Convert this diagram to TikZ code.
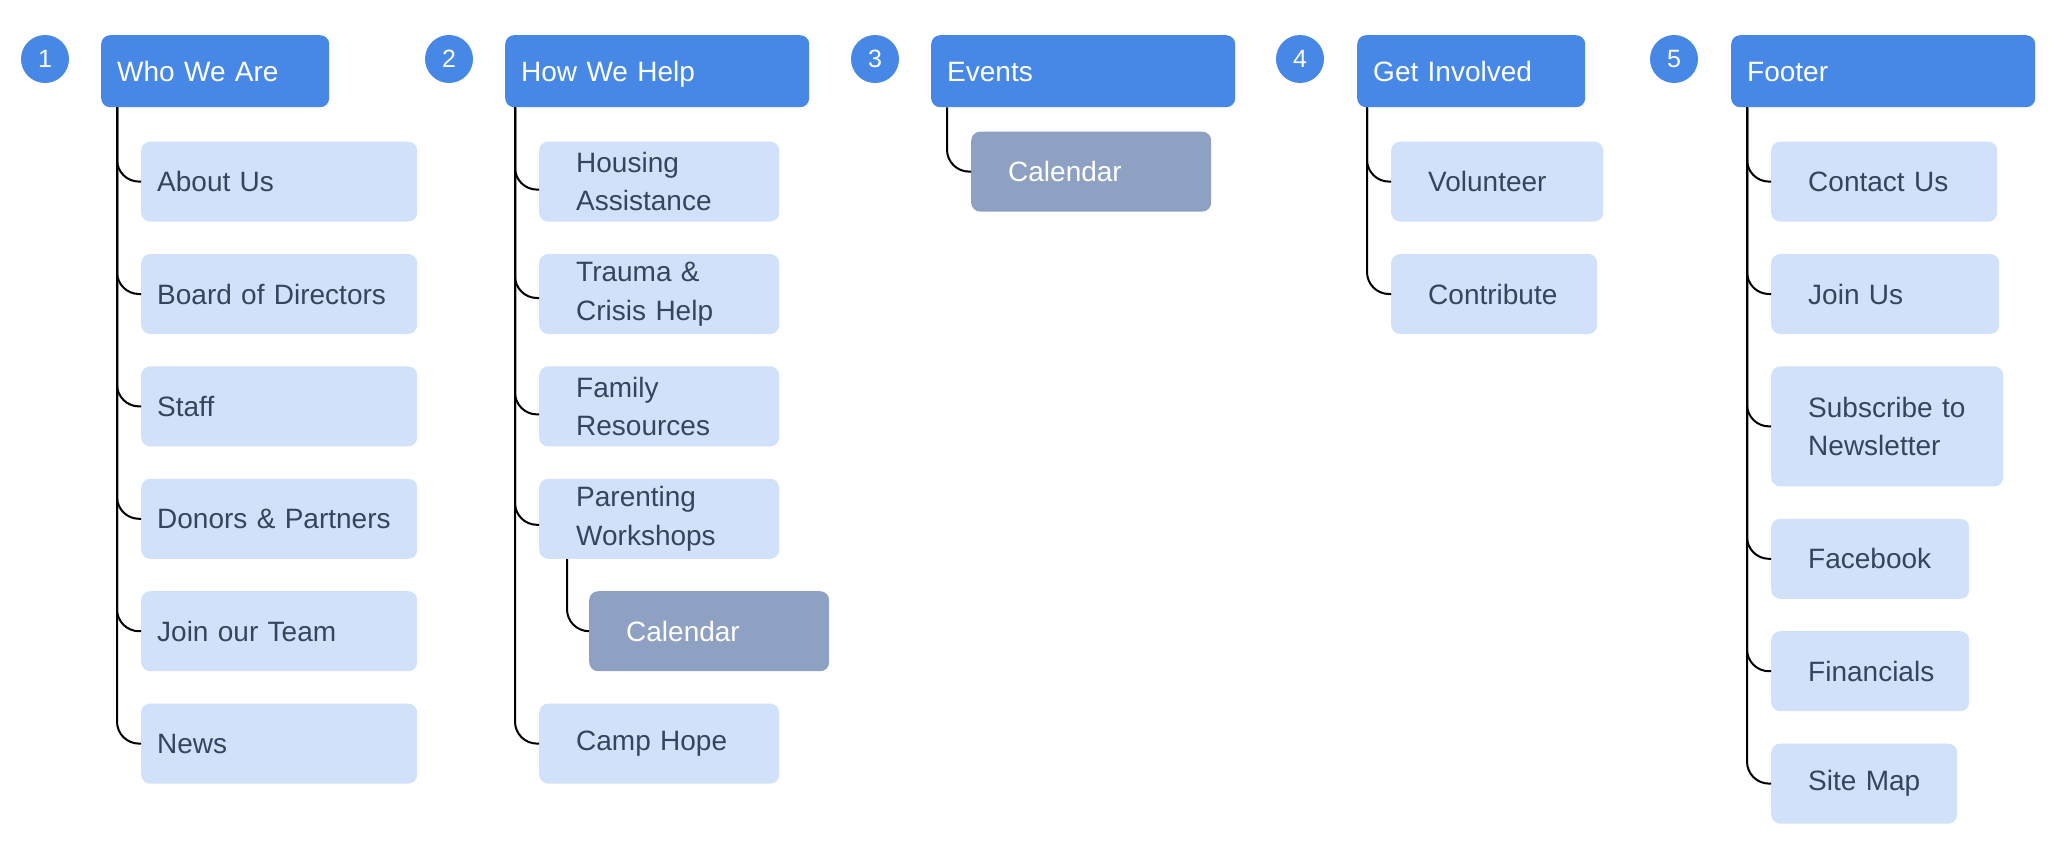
\documentclass[tikz,border=0pt]{standalone}
\usepackage{fontspec}
\setmainfont{Liberation Sans}
\usepackage{xcolor}
\usetikzlibrary{positioning}

\definecolor{hdrblue}{HTML}{4788E6}
\definecolor{navblue}{HTML}{D0E1F9}
\definecolor{navtext}{HTML}{38445F}
\definecolor{subgrey}{HTML}{8FA1C2}

\begin{document}
\begin{tikzpicture}[
    x=1pt, y=-1pt,
    num/.style={circle, fill=hdrblue, text=white, minimum size=48pt, inner sep=0pt, font=\fontsize{25}{25}\selectfont},
    hdrbox/.style={rectangle, rounded corners=9pt, fill=hdrblue, text=white, anchor=north west, minimum height=72pt, inner xsep=16pt, inner ysep=0pt, text width=#1, text height=21pt, text depth=0pt, align=left, font=\fontsize{28}{34}\selectfont},
    navbox/.style={rectangle, rounded corners=9pt, fill=navblue, text=navtext, minimum height=80pt, inner xsep=37pt, inner ysep=0pt, text width=#1, align=left, font=\fontsize{28}{38.5}\selectfont},
    tight/.style={inner xsep=16pt},
    subpage/.style={fill=subgrey, text=white},
    link/.style={line width=2pt, rounded corners=22pt}
]
\useasboundingbox (0,0) rectangle (2064,846);

% 1 Who We Are
\node[num] (n1) at (45,59) {1};
\node[hdrbox=196pt] (who) at (101,35) {Who We Are};
\node[navbox=244pt, tight, below right=34pt and 40pt of who.south west] (about) {About Us};
\node[navbox=244pt, tight, below=32pt of about.south west, anchor=north west] (board) {Board of Directors};
\node[navbox=244pt, tight, below=32pt of board.south west, anchor=north west] (staff) {Staff};
\node[navbox=244pt, tight, below=32pt of staff.south west, anchor=north west] (donors) {Donors \& Partners};
\node[navbox=244pt, tight, below=32pt of donors.south west, anchor=north west] (team) {Join our Team};
\node[navbox=244pt, tight, below=32pt of team.south west, anchor=north west] (news) {News};

% 2 How We Help
\node[num] (n2) at (449,59) {2};
\node[hdrbox=272pt] (help) at (505,35) {How We Help};
\node[navbox=166pt, below right=34pt and 34pt of help.south west] (housing) {Housing\\Assistance};
\node[navbox=166pt, below=32pt of housing.south west, anchor=north west] (trauma) {Trauma \&\\Crisis Help};
\node[navbox=166pt, below=32pt of trauma.south west, anchor=north west] (family) {Family\\Resources};
\node[navbox=166pt, below=32pt of family.south west, anchor=north west] (parenting) {Parenting\\Workshops};
\node[navbox=166pt, subpage, below right=32pt and 50pt of parenting.south west] (calhelp) {Calendar};
\node[navbox=166pt, below=32pt of calhelp.south west, anchor=north west, xshift=-50pt] (camp) {Camp~Hope};

% 3 Events
\node[num] (n3) at (875,59) {3};
\node[hdrbox=272pt] (events) at (931,35) {Events};
\node[navbox=166pt, subpage, below right=24pt and 40pt of events.south west] (calevents) {Calendar};

% 4 Get Involved
\node[num] (n4) at (1300,59) {4};
\node[hdrbox=196pt] (involved) at (1357,35) {Get Involved};
\node[navbox=138pt, below right=34pt and 34pt of involved.south west] (volunteer) {Volunteer};
\node[navbox=132pt, below=32pt of volunteer.south west, anchor=north west] (contribute) {Contribute};

% 5 Footer
\node[num] (n5) at (1674,59) {5};
\node[hdrbox=272pt] (footer) at (1731,35) {Footer};
\node[navbox=152pt, below right=34pt and 40pt of footer.south west] (contact) {Contact~Us};
\node[navbox=154pt, below=32pt of contact.south west, anchor=north west] (joinus) {Join~Us};
\node[navbox=158pt, minimum height=120pt, below=32pt of joinus.south west, anchor=north west] (subscribe) {Subscribe~to\\Newsletter};
\node[navbox=124pt, below=32pt of subscribe.south west, anchor=north west] (facebook) {Facebook};
\node[navbox=124pt, below=32pt of facebook.south west, anchor=north west] (financials) {Financials};
\node[navbox=112pt, below=32pt of financials.south west, anchor=north west] (sitemap) {Site~Map};

% Links
\draw[link] ([xshift=16pt]who.south west) |- (about.west);
\draw[link] ([xshift=16pt]who.south west) |- (board.west);
\draw[link] ([xshift=16pt]who.south west) |- (staff.west);
\draw[link] ([xshift=16pt]who.south west) |- (donors.west);
\draw[link] ([xshift=16pt]who.south west) |- (team.west);
\draw[link] ([xshift=16pt]who.south west) |- (news.west);

\draw[link] ([xshift=10pt]help.south west) |- ([yshift=-8pt]housing.west);
\draw[link] ([xshift=10pt]help.south west) |- ([yshift=-4pt]trauma.west);
\draw[link] ([xshift=10pt]help.south west) |- ([yshift=-8pt]family.west);
\draw[link] ([xshift=10pt]help.south west) |- ([yshift=-6pt]parenting.west);
\draw[link] ([xshift=10pt]help.south west) |- (camp.west);
\draw[link] ([xshift=28pt]parenting.south west) |- (calhelp.west);

\draw[link] ([xshift=16pt]events.south west) |- (calevents.west);

\draw[link] ([xshift=10pt]involved.south west) |- (volunteer.west);
\draw[link] ([xshift=10pt]involved.south west) |- (contribute.west);

\draw[link] ([xshift=16pt]footer.south west) |- (contact.west);
\draw[link] ([xshift=16pt]footer.south west) |- (joinus.west);
\draw[link] ([xshift=16pt]footer.south west) |- (subscribe.west);
\draw[link] ([xshift=16pt]footer.south west) |- (facebook.west);
\draw[link] ([xshift=16pt]footer.south west) |- (financials.west);
\draw[link] ([xshift=16pt]footer.south west) |- (sitemap.west);

\end{tikzpicture}
\end{document}
